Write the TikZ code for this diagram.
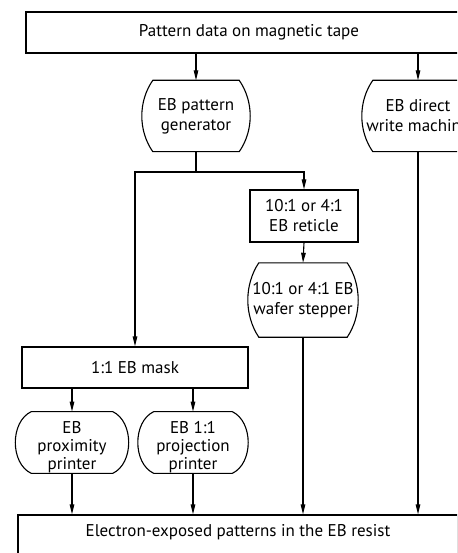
\documentclass[tikz,border=0pt]{standalone}
\usepackage{fontspec}
\setmainfont{PT Sans}
\usetikzlibrary{arrows.meta}

\tikzset{
  flowbox/.style={draw, line width=1.1pt, rectangle, align=center, inner sep=2pt},
  machine/.style={rectangle, align=center, inner sep=0pt},
  arr/.style={line width=1.1pt, -{Triangle[length=10pt,width=4.5pt]}},
  plain/.style={line width=1.1pt}
}

\begin{document}
\begin{tikzpicture}[x=1pt, y=-1pt, font=\fontsize{17}{20}\selectfont]
        \useasboundingbox (0,0) rectangle (457,553);
        \clip (0,0) rectangle (457,553);

        % input and output strips
        \node[flowbox, minimum width=446, minimum height=41] (tape) at (249, 32.5) {Pattern data on magnetic tape};
        \node[flowbox, minimum width=440, minimum height=70] (resist) at (238, 550) {};
        \node (resisttext) at (238, 532) {Electron-exposed patterns in the EB resist};

        % writing machines
        \node[machine, minimum width=108, minimum height=71] (gen) at (196, 116) {EB pattern\\generator};
        \node[machine, minimum width=112, minimum height=71] (direct) at (418, 116) {EB direct\\write machine};

        % reticle route
        \node[flowbox, minimum width=108, minimum height=52] (reticle) at (304, 216) {10:1 or 4:1\\EB reticle};
        \node[machine, minimum width=110, minimum height=74] (stepper) at (303, 300) {10:1 or 4:1 EB\\wafer stepper};

        % mask route (printer text sits low, the rule pushes it down)
        \node[machine, minimum width=113, minimum height=51] (prox) at (72, 442.5) {\rule{0pt}{22pt}EB\\[-2pt]proximity\\[-2pt]printer};
        \node[machine, minimum width=110, minimum height=51] (proj) at (193, 442.5) {\rule{0pt}{22pt}EB 1:1\\[-2pt]projection\\[-2pt]printer};
        \node[flowbox, minimum width=226, minimum height=41] (mask) at (135, 367.5) {1:1 EB mask};

        % bulged outlines of the machines
        \foreach \n/\d/\v in {gen/11/21, direct/11/21, stepper/11/22, prox/16/10, proj/16/10}
            \draw[plain] ([xshift=\d]\n.north west) -- ([xshift=-\d]\n.north east)
                .. controls ([xshift=\d/3, yshift=-\v]\n.north east) and ([xshift=\d/3, yshift=\v]\n.south east) .. ([xshift=-\d]\n.south east)
                -- ([xshift=\d]\n.south west)
                .. controls ([xshift=-\d/3, yshift=\v]\n.south west) and ([xshift=-\d/3, yshift=-\v]\n.north west) .. cycle;

        % connectors
        \draw[arr] (tape.south -| gen.north) -- (gen.north);
        \draw[arr] (tape.south -| direct.north) -- (direct.north);

        \coordinate (fork) at (196, 172);
        \draw[plain] (gen.south) -- (fork);
        \draw[arr] (fork) -| (mask.north);
        \draw[arr] (fork) -| (reticle.north);
        \draw[arr] (reticle.south) -- (stepper.north);

        \draw[arr] (mask.south -| prox.north) -- (prox.north);
        \draw[arr] (mask.south -| proj.north) -- (proj.north);

        \draw[arr] (prox.south) -- (resist.north -| prox.south);
        \draw[arr] (proj.south) -- (resist.north -| proj.south);
        \draw[arr] (stepper.south) -- (resist.north -| stepper.south);
        \draw[arr] (direct.south) -- (resist.north -| direct.south);
\end{tikzpicture}
\end{document}
